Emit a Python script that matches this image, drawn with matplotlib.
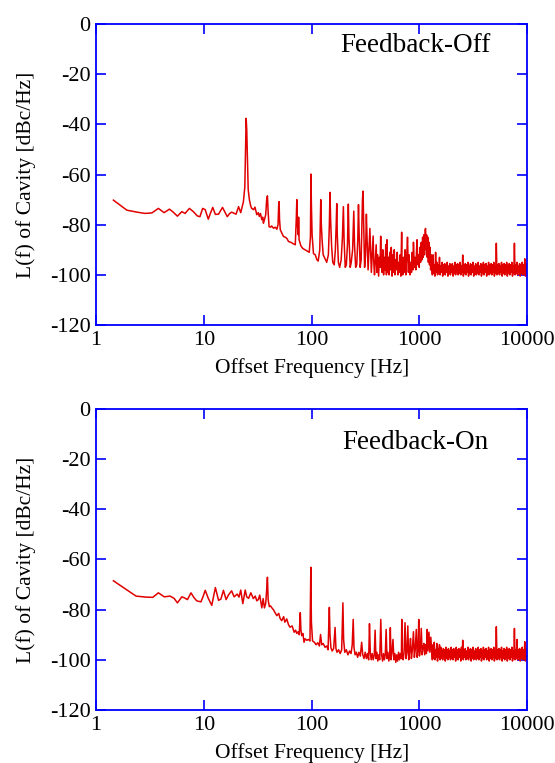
import matplotlib
matplotlib.use("Agg")
import matplotlib.pyplot as plt
from matplotlib.ticker import NullLocator

plt.rcParams["font.family"] = ["Liberation Serif", "DejaVu Serif"]
plt.rcParams["axes.unicode_minus"] = False

# ---- Feedback-Off: offset frequency [Hz] / L(f) [dBc/Hz] ----
off_freq = [
    1.45, 1.93, 2.4, 2.85, 3.3, 3.79, 4.28, 4.8, 5.2, 5.69,
    6.25, 6.7, 7.35, 8.0, 8.7, 9.2, 9.75, 10.3, 11.0, 11.5,
    12.1, 12.8, 13.7, 14.9, 15.7, 16.5, 17.3, 18.1, 19.9, 21.0,
    22.0, 23.3, 24.0, 24.4, 24.7, 25.0, 25.4, 25.8, 26.5, 27.2,
    27.8, 29.0, 29.8, 31.0, 32.0, 32.7, 33.5, 34.5, 35.2, 35.7,
    36.5, 37.5, 38.3, 38.9, 39.5, 40.3, 41.5, 42.5, 44.3, 46.0,
    47.6, 48.8, 49.5, 49.9, 50.4, 51.2, 52.5, 54.8, 57.0, 59.0,
    61.0, 64.0, 67.6, 70.5, 72.0, 72.9, 73.8, 75.2, 75.7, 76.5,
    79.6, 83.0, 87.0, 91.0, 95.0, 97.5, 98.5, 99.5, 101, 104,
    108, 112, 115, 119, 121.5, 123, 125, 128, 133, 138,
    143, 146, 148, 150, 153, 157, 162, 166, 169, 171,
    173, 177, 182, 188, 193, 197, 200, 205, 210, 215,
    219, 222, 228, 233, 240, 246, 250, 256, 262, 268,
    272, 276, 282, 288, 296, 300, 304, 310, 316, 322,
    327, 334, 340, 347, 352, 358, 365, 372, 377, 383,
    390, 397, 403, 410, 418, 425, 431, 437, 443, 450,
    458, 465, 472, 480, 487, 494, 500, 507, 515, 523,
    531, 540, 548, 557, 566, 575, 584, 593, 602, 612,
    622, 632, 642, 652, 662, 672, 684, 690, 700, 712,
    724, 736, 748, 760, 775, 790, 802, 816, 830, 844,
    858, 872, 880, 895, 910, 925, 940, 950, 965, 980,
    995, 1010, 1025, 1040, 1055, 1070, 1085, 1100, 1115, 1130,
    1140, 1150, 1165, 1180, 1195, 1210, 1225, 1240, 1255, 1270,
    1285,
]
off_level = [
    -70.2, -74.2, -75.0, -75.5, -75.3, -73.5, -75.2, -73.8, -75.0, -76.6,
    -74.8, -75.5, -73.5, -74.8, -76.5, -76.8, -73.5, -74.0, -77.8, -75.5,
    -73.1, -75.9, -75.8, -73.1, -75.0, -76.8, -75.6, -75.0, -75.8, -72.8,
    -75.2, -70.8, -65.0, -50.0, -37.6, -42.0, -55.0, -66.0, -70.2, -72.5,
    -73.5, -74.0, -73.0, -76.0, -75.2, -76.7, -75.5, -78.0, -77.0, -79.4,
    -78.0, -76.0, -70.0, -68.5, -75.0, -80.8, -81.0, -80.5, -81.4, -81.0,
    -81.8, -80.0, -72.0, -70.8, -78.0, -82.0, -83.0, -84.7, -85.0, -85.5,
    -86.7, -87.0, -87.6, -88.0, -78.0, -70.0, -80.0, -84.0, -77.0, -86.0,
    -88.5, -89.5, -90.0, -90.5, -91.0, -85.0, -59.8, -72.0, -84.0, -91.5,
    -92.0, -94.0, -94.5, -90.0, -70.0, -80.0, -86.0, -92.0, -93.5, -95.0,
    -92.0, -80.0, -67.1, -78.0, -88.0, -95.0, -96.0, -90.0, -80.0, -71.6,
    -84.0, -95.0, -97.0, -94.0, -85.0, -72.8, -86.0, -97.0, -96.0, -88.0,
    -71.8, -85.0, -97.0, -95.0, -90.0, -74.6, -88.0, -97.0, -96.0, -86.0,
    -72.0, -84.0, -97.0, -94.0, -70.0, -66.6, -80.0, -97.0, -92.0, -75.8,
    -86.0, -98.0, -90.0, -81.5, -90.0, -99.0, -92.0, -84.5, -95.0, -100.0,
    -94, -88, -99, -92, -100.5, -93, -97, -84.6, -96, -99,
    -90, -100, -93, -98, -88, -100, -86, -99, -93, -100,
    -91, -98, -89, -100.5, -92, -99, -90, -100, -94, -98,
    -91, -100, -95, -99, -92, -100.5, -83, -97, -100, -93,
    -99, -90, -100, -94, -85, -99, -92, -100, -95, -99,
    -91, -98, -87, -97, -93, -98, -90, -86, -96, -92,
    -97, -89, -95, -87, -94, -85, -93, -84, -92, -82,
    -81.5, -90, -84, -93, -85, -95, -87, -96, -89, -98,
    -92,
]

# ---- Feedback-On ----
on_freq = [
    1.45, 2.35, 2.9, 3.36, 3.79, 4.3, 4.86, 5.3, 5.69, 6.25,
    6.6, 7.05, 7.6, 8.1, 8.6, 9.4, 9.8, 10.3, 11.0, 11.85,
    12.8, 13.7, 14.4, 15.2, 16.1, 16.9, 18.1, 19.1, 20.4, 21.2,
    22.0, 23.0, 24.2, 25.0, 26.0, 27.3, 28.8, 30.0, 31.0, 32.0,
    33.0, 34.5, 35.5, 36.5, 37.5, 38.3, 38.9, 39.5, 40.5, 41.5,
    42.8, 44.5, 45.5, 47.6, 49.5, 51.0, 52.8, 55.0, 56.5, 58.8,
    61.0, 63.0, 66.0, 68.8, 71.0, 72.8, 75.0, 76.8, 77.8, 78.5,
    79.5, 81.0, 83.0, 85.0, 87.0, 90.0, 93.7, 96.5, 98.3, 99.5,
    102, 106, 110, 114, 118, 121, 124, 128, 133, 138,
    142, 146, 148, 151, 155, 160, 165, 168, 172, 178,
    184, 190, 195, 198, 203, 210, 217, 225, 232, 238,
    243, 247, 253, 260, 267, 275, 283, 291, 298, 306,
    314, 322, 330, 338, 344, 350, 357, 365, 373, 381,
    388, 395, 403, 411, 419, 428, 438, 446, 455, 464,
    473, 482, 491, 500, 510, 520, 530, 537, 545, 555,
    568, 580, 592, 604, 616, 628, 641, 654, 667, 680,
    686, 694, 707, 720, 735, 750, 765, 780, 795, 810,
    826, 842, 858, 880, 897, 914, 935, 952, 970, 985,
    1000, 1020, 1040, 1060, 1080, 1100, 1120, 1140, 1160, 1180,
    1200, 1225, 1250, 1275,
]
on_level = [
    -68.5, -74.6, -75.0, -75.1, -73.3, -74.9, -74.6, -75.5, -77.3, -74.9,
    -75.3, -76.0, -73.3, -75.2, -76.5, -76.9, -75.0, -72.3, -75.5, -78.3,
    -71.2, -76.3, -75.8, -72.3, -76.0, -74.2, -72.5, -74.9, -73.8, -75.0,
    -72.2, -77.6, -72.2, -74.9, -75.5, -73.3, -75.6, -74.6, -76.5, -76.0,
    -74.2, -79.3, -75.6, -79.3, -77.5, -72.0, -67.1, -76.0, -78.8, -78.5,
    -79.3, -80.2, -81.0, -82.4, -81.5, -83.5, -84.4, -82.8, -85.0, -83.7,
    -86.0, -87.0, -86.5, -89.0, -88.2, -89.5, -88.8, -90.0, -84.0, -81.2,
    -88.0, -90.4, -89.5, -93.0, -91.6, -92.2, -91.9, -92.5, -63.1, -85.0,
    -92.5, -93.0, -94.0, -93.2, -94.5, -89.9, -94.0, -93.5, -95.0, -94.5,
    -96.0, -79.1, -90.0, -95.2, -96.5, -95.5, -87.1, -95.5, -97.0, -96.0,
    -97.5, -96.0, -77.3, -92.0, -97.0, -96.0, -98.0, -96.5, -97.5, -94.0,
    -83.9, -95.0, -98.0, -97.0, -99.0, -97.0, -98.5, -93.0, -98.0, -99.5,
    -97.0, -99.5, -97.5, -100.0, -85.6, -97.0, -100.0, -97.5, -100.0, -98.0,
    -88.2, -99.5, -97.0, -100.5, -98.0, -100.0, -83.9, -98.0, -100.5, -97.5,
    -100.0, -98.0, -87.9, -99.5, -97.0, -100.5, -98.0, -87.2, -100.0, -97.5,
    -91.9, -100.0, -97.5, -101.0, -98.0, -100.5, -97.0, -100.0, -97.5, -99.5,
    -83.9, -98.0, -100.0, -97.0, -85.2, -99.5, -97.0, -86.5, -100.0, -96.5,
    -91.5, -99.5, -96.5, -88.8, -99.0, -96.0, -87.9, -99.0, -96.0, -83.9,
    -98.5, -95.5, -87.5, -98.0, -95.0, -93.5, -98.0, -94.0, -97.5, -87.9,
    -96.5, -89.0, -97.0, -91.0,
]

# ---- noise floor above 1.3 kHz (same frequency points in both runs) ----
floor_freq = [
    1300, 1318, 1336, 1354, 1373, 1392, 1412, 1431, 1451, 1471,
    1492, 1513, 1534, 1555, 1577, 1599, 1621, 1643, 1666, 1689,
    1713, 1737, 1761, 1785, 1810, 1835, 1861, 1887, 1913, 1939,
    1966, 1993, 2021, 2049, 2078, 2107, 2136, 2166, 2196, 2226,
    2257, 2288, 2320, 2352, 2385, 2418, 2452, 2486, 2520, 2555,
    2591, 2627, 2663, 2700, 2738, 2776, 2815, 2854, 2893, 2933,
    2974, 3016, 3058, 3100, 3143, 3187, 3231, 3276, 3322, 3368,
    3415, 3462, 3510, 3559, 3608, 3658, 3709, 3761, 3813, 3866,
    3920, 3975, 4030, 4086, 4142, 4200, 4258, 4317, 4378, 4439,
    4500, 4562, 4626, 4690, 4756, 4822, 4889, 4957, 5026, 5096,
    5166, 5238, 5311, 5385, 5460, 5536, 5613, 5691, 5770, 5850,
    5931, 6013, 6097, 6182, 6268, 6355, 6443, 6533, 6624, 6716,
    6809, 6904, 7000, 7097, 7196, 7296, 7397, 7500, 7604, 7710,
    7817, 7926, 8036, 8148, 8261, 8376, 8492, 8610, 8730, 8851,
    8975, 9100, 9226, 9354, 9484, 9616, 9750, 9875, 10000,
]
off_floor = [
    -96.5, -100, -92, -99.5, -96, -100.5, -91, -99, -95, -100,
    -96, -99.5, -93, -100, -96.5, -99, -95, -100.5, -96, -99.5,
    -95.5, -100, -96, -99, -95, -100.5, -96.5, -99.5, -95.5, -100,
    -96, -99, -95.5, -100.5, -96.5, -99.5, -95, -100, -96, -99,
    -95.5, -100, -96, -99.5, -95, -100, -96.5, -99, -92.1, -100.5,
    -96, -99.5, -95.5, -100, -96, -99, -95, -100.5, -96.5, -99.5,
    -95.5, -100, -96, -99, -95, -100.5, -96.5, -99.5, -95.5, -100,
    -96, -99.5, -95, -100, -96.5, -99, -95.5, -100.5, -96, -99.5,
    -95, -100, -96, -99, -95.5, -100.5, -96.5, -99.5, -95, -100,
    -96, -99.5, -95.5, -100, -96, -99, -95, -100.5, -96.5, -99.5,
    -87.4, -100, -96, -99.5, -95.5, -100, -96.5, -99, -95, -100.5,
    -96, -99.5, -95.5, -100, -96, -99, -95, -100.5, -96.5, -99.5,
    -95.5, -100, -96, -99, -95, -100.5, -96.5, -99.5, -87.4, -100,
    -96, -99.5, -95, -100, -96.5, -99, -95.5, -100.5, -96, -99.5,
    -95, -100, -96, -99.5, -93.6, -100.5, -95.5, -100, -99,
]
on_floor = [
    -97, -100, -94, -99.5, -93, -100, -96, -99, -93.5, -100.5,
    -95.5, -99, -94, -100, -95, -99.5, -96.5, -100, -95.5, -99,
    -96, -100.5, -95, -99.5, -96, -100, -95.5, -99, -96.5, -100,
    -95, -99.5, -96, -100, -95.5, -99, -96.5, -100.5, -95, -99.5,
    -96, -100, -95.5, -99, -96, -100.5, -95, -99.5, -92.2, -100,
    -96, -99, -95.5, -100, -96.5, -99.5, -95, -100, -96, -99,
    -95.5, -100.5, -96, -99.5, -95, -100, -96.5, -99, -95.5, -100,
    -96, -99.5, -95, -100, -96, -99, -95.5, -100.5, -96.5, -99.5,
    -95, -100, -96, -99, -95.5, -100, -96.5, -99.5, -95, -100.5,
    -96, -99.5, -95.5, -100, -96, -99, -95, -100.5, -96.5, -99.5,
    -86.8, -100, -96, -99.5, -95.5, -100, -96, -99, -95, -100.5,
    -96.5, -99.5, -95.5, -100, -96, -99, -95, -100.5, -96, -99.5,
    -95.5, -100, -96, -99, -95, -100.5, -96.5, -99.5, -87.5, -100,
    -96, -99.5, -91.9, -100, -96, -99, -95.5, -100.5, -96, -99.5,
    -95, -100, -96, -99.5, -92.8, -100.5, -95.5, -100, -98,
]

x_ticks = [1, 10, 100, 1000, 10000]
x_tick_labels = ["1", "10", "100", "1000", "10000"]
y_ticks = [-120, -100, -80, -60, -40, -20, 0]

assert len(off_freq) == len(off_level)
assert len(on_freq) == len(on_level)
assert len(floor_freq) == len(off_floor) == len(on_floor)


def draw_panel(ax, freq, level, label, label_y):
    ax.plot(freq, level, color="#e00000", lw=1.1)
    ax.set_xscale("log")
    ax.set_xlim(1, 10000)
    ax.set_ylim(-120, 0)
    ax.set_xticks(x_ticks)
    ax.set_xticklabels(x_tick_labels)
    ax.xaxis.set_minor_locator(NullLocator())
    ax.set_yticks(y_ticks)
    ax.tick_params(direction="in", length=7, width=1.2, colors="blue",
                   labelcolor="black", labelsize=16, top=True, right=True, pad=4)
    for s in ax.spines.values():
        s.set_color("blue")
        s.set_linewidth(1.3)
    ax.set_xlabel("Offset Frequency [Hz]", fontsize=15.5, labelpad=6)
    ax.set_ylabel("L(f) of Cavity [dBc/Hz]", fontsize=15.5, labelpad=10)
    ax.text(0.74, label_y, label, transform=ax.transAxes, ha="center",
            va="center", fontsize=19.5)


fig = plt.figure(figsize=(5.55, 7.63), dpi=100)
ax1 = fig.add_axes([0.173, 0.574, 0.777, 0.3945])
ax2 = fig.add_axes([0.173, 0.0695, 0.777, 0.3945])

draw_panel(ax1, off_freq + floor_freq, off_level + off_floor, "Feedback-Off", 0.93)
draw_panel(ax2, on_freq + floor_freq, on_level + on_floor, "Feedback-On", 0.887)

fig.savefig("out.png", dpi=100)
